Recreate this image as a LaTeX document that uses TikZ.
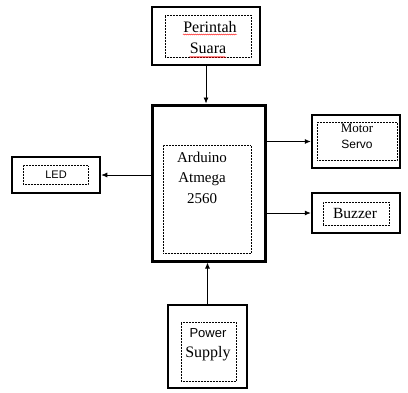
\documentclass[tikz,border=0pt]{standalone}
\usepackage{fontspec}
\setmainfont{Liberation Serif}
\setsansfont{Liberation Sans}
\usepackage{tikz}
\usetikzlibrary{arrows.meta,decorations.pathmorphing}

\begin{document}
\begin{tikzpicture}[x=1pt,y=-1pt,->,>={Latex[length=6pt,width=5pt]},line width=0.8pt,
  outer/.style={draw,line width=2.5pt,inner sep=0pt,-},
  inner/.style={draw,densely dotted,line width=0.5pt,inner sep=0pt,-},
  lbl/.style={anchor=base,inner sep=0pt,font=\rmfamily\fontsize{15}{18}\selectfont},
  slbl/.style={lbl,font=\sffamily\fontsize{12}{14}\selectfont},
  squig/.style={-,red,line width=0.4pt,decorate,decoration={snake,amplitude=0.5pt,segment length=2pt}}]
  \useasboundingbox (0,0) rectangle (408,392);

  \node[outer,minimum width=108pt,minimum height=58pt] (sua) at (206,36) {};
  \node[inner,minimum width=86pt,minimum height=42pt]  (suain) at (208,36) {};
  \node[lbl,font=\rmfamily\fontsize{16}{18}\selectfont] (per) at (210,32) {Perintah};
  \node[lbl,font=\rmfamily\fontsize{16}{18}\selectfont] (suara) at (208,53) {Suara};

  \node[outer,line width=3pt,minimum width=113pt,minimum height=156pt] (ard) at (208.5,183) {};
  \node[inner,minimum width=88pt,minimum height=108pt] (ardin) at (207,199) {};
  \node[lbl] (ard1) at (202,162) {Arduino};
  \node[lbl] (ard2) at (202,182) {Atmega};
  \node[lbl] (ard3) at (202,203) {2560};

  \node[outer,minimum width=88pt,minimum height=36pt] (led) at (56,175) {};
  \node[inner,minimum width=65pt,minimum height=19pt] (ledin) at (55.5,174.5) {};
  \node[slbl,font=\sffamily\fontsize{11}{13}\selectfont] (ledlbl) at (56,178.5) {LED};

  \node[outer,minimum width=88pt,minimum height=53pt] (mot) at (356,141.5) {};
  \node[inner,minimum width=80pt,minimum height=38pt] (motin) at (357,141) {};
  \node[lbl,font=\rmfamily\fontsize{13}{15}\selectfont] (mot1) at (357,132) {Motor};
  \node[slbl] (mot2) at (357,148) {Servo};

  \node[outer,minimum width=88pt,minimum height=40pt] (buz) at (356,213) {};
  \node[inner,minimum width=66pt,minimum height=23pt] (buzin) at (356,213.5) {};
  \node[lbl,font=\rmfamily\fontsize{15.5}{18}\selectfont] (buzlbl) at (355,218) {Buzzer};

  \node[outer,minimum width=79pt,minimum height=83pt] (pow) at (207.5,346.5) {};
  \node[inner,minimum width=55pt,minimum height=59pt] (powin) at (208.5,351.5) {};
  \node[slbl,font=\sffamily\fontsize{13}{15}\selectfont] (pow1) at (208,337) {Power};
  \node[lbl,font=\rmfamily\fontsize{16}{18}\selectfont] (pow2) at (208,357) {Supply};

  % spell-check underline
  \draw[squig] ([yshift=-2.5pt]per.base west) -- ([yshift=-2.5pt]per.base east);
  \draw[squig] ([yshift=-4pt]suara.base west) -- ([yshift=-4pt]suara.base east);

  \path (sua.south) edge (sua.south |- ard.north)
        (led.east -| ard.west) edge (led.east)
        (mot.west -| ard.east) edge (mot.west)
        (buz.west -| ard.east) edge (buz.west)
        (pow.north) edge (pow.north |- ard.south);
\end{tikzpicture}
\end{document}
